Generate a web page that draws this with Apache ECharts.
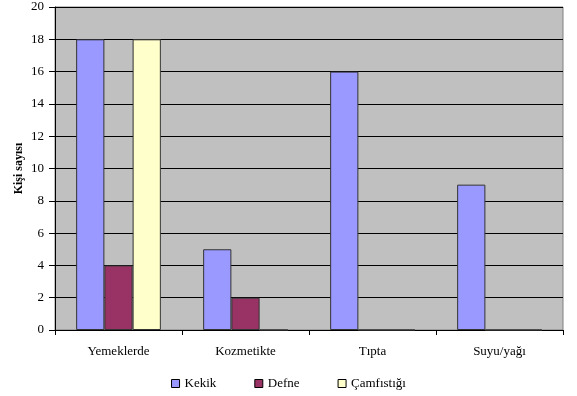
<!DOCTYPE html>
<html>
<head>
<meta charset="utf-8">
<script src="https://cdn.jsdelivr.net/npm/echarts@6/dist/echarts.min.js"></script>
<style>
  html, body { margin: 0; padding: 0; background: #fff; }
  #chart { width: 577px; height: 396px; }
</style>
</head>
<body>
<div id="chart"></div>
<script>
// Usage areas and number of people per plant
const categories = ['Yemeklerde', 'Kozmetikte', 'Tıpta', 'Suyu/yağı'];
const seriesNames = ['Kekik', 'Defne', 'Çamfıstığı'];
const kekik = [18, 5, 16, 9];
const defne = [4, 2, 0, 0];
const camfistigi = [18, 0, 0, 0];
const yTicks = [0, 2, 4, 6, 8, 10, 12, 14, 16, 18, 20];

const colors = ['#9999FF', '#993366', '#FFFFCC'];
const values = [kekik, defne, camfistigi];
const font = 'Liberation Serif';

const chart = echarts.init(document.getElementById('chart'), null, { renderer: 'canvas' });

chart.setOption({
  animation: false,
  textStyle: { fontFamily: font },
  grid: {
    left: 55, right: 14, top: 7, bottom: 66,
    show: true, backgroundColor: '#C0C0C0', borderColor: '#808080', borderWidth: 1
  },
  legend: {
    top: 372,
    left: 'center',
    itemWidth: 8,
    itemHeight: 8,
    itemGap: 38,
    icon: 'rect',
    textStyle: { fontFamily: font, fontSize: 13, color: '#000' },
    data: seriesNames.map((n, i) => ({
      name: n,
      itemStyle: { color: colors[i], borderColor: '#000', borderWidth: 1 }
    }))
  },
  xAxis: {
    type: 'category',
    data: categories,
    axisLine: { lineStyle: { color: '#000', width: 1 } },
    axisTick: { show: true, length: 5, lineStyle: { color: '#000' } },
    axisLabel: { color: '#000', fontSize: 13, fontFamily: font, margin: 15 },
    splitLine: { show: false }
  },
  yAxis: {
    type: 'value',
    min: yTicks[0],
    max: yTicks[yTicks.length - 1],
    interval: yTicks[1] - yTicks[0],
    name: 'Kişi sayısı',
    nameLocation: 'middle',
    nameGap: 30,
    nameRotate: 90,
    nameMoveOverlap: false,
    nameTextStyle: { color: '#000', fontSize: 12, fontWeight: 'bold', fontFamily: font },
    axisLine: { show: true, lineStyle: { color: '#000', width: 1 } },
    axisTick: { show: true, length: 6, lineStyle: { color: '#000' } },
    axisLabel: { color: '#000', fontSize: 13, fontFamily: font, margin: 11 },
    splitLine: { show: true, lineStyle: { color: '#000', width: 1 } }
  },
  series: seriesNames.map((n, i) => ({
    name: n,
    type: 'bar',
    data: values[i],
    barGap: '0%',
    barCategoryGap: '33.3%',
    itemStyle: { color: colors[i], borderColor: '#333', borderWidth: 1 }
  }))
});
</script>
</body>
</html>
